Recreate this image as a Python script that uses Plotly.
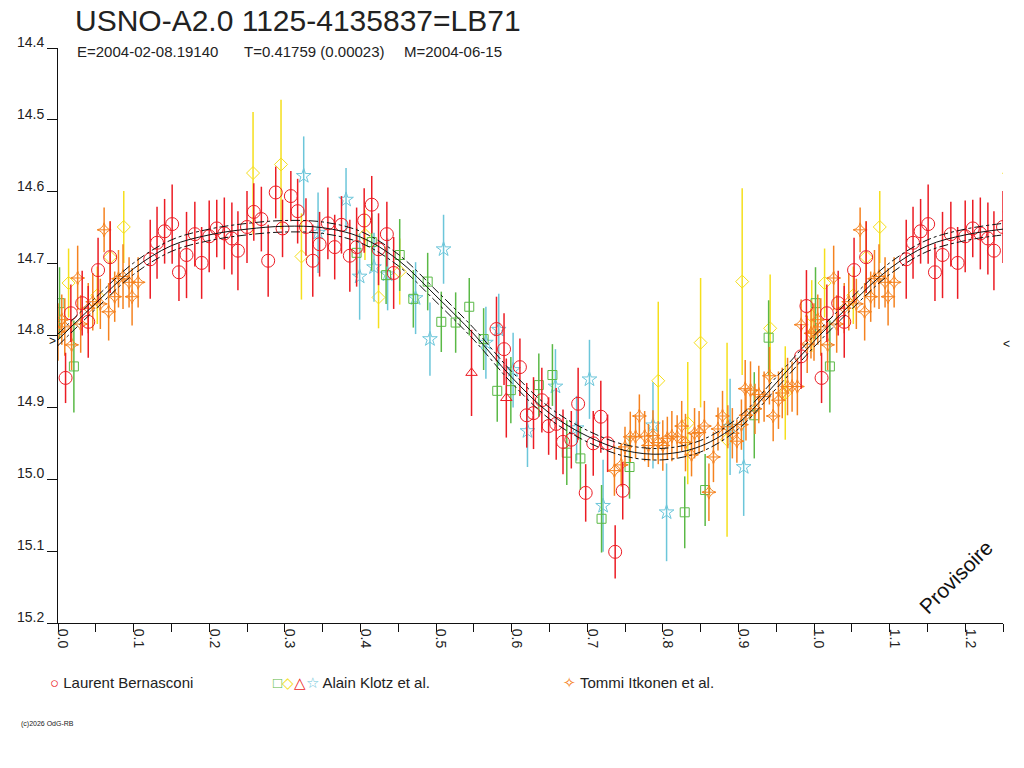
import numpy as np
import plotly.graph_objects as go

# --- fitted light curve (phase, magnitude) ---
fit_phase = [0.00, 0.05, 0.10, 0.15, 0.20, 0.25, 0.30, 0.35, 0.40, 0.45, 0.50,
             0.55, 0.60, 0.65, 0.70, 0.75, 0.80, 0.85, 0.90, 0.95, 1.00]
fit_mag = [14.806, 14.755, 14.707, 14.675, 14.660, 14.652, 14.648, 14.650, 14.663, 14.695, 14.745,
           14.798, 14.858, 14.908, 14.940, 14.960, 14.965, 14.954, 14.922, 14.866, 14.808]
fit_band = 0.008

# --- Laurent Bernasconi (red circles) ---
lb_phase = [0.010, 0.017, 0.032, 0.040, 0.053, 0.069, 0.122, 0.131, 0.141, 0.151,
            0.160, 0.170, 0.181, 0.190, 0.200, 0.210, 0.220, 0.230, 0.238, 0.250,
            0.259, 0.269, 0.278, 0.288, 0.297, 0.308, 0.317, 0.328, 0.337, 0.346,
            0.357, 0.366, 0.375, 0.386, 0.395, 0.405, 0.415, 0.424, 0.435, 0.444,
            0.580, 0.590, 0.611, 0.620, 0.629, 0.640, 0.649, 0.659, 0.668, 0.679,
            0.688, 0.698, 0.708, 0.718, 0.727, 0.737, 0.747, 0.983, 0.990]
lb_mag = [14.859, 14.769, 14.755, 14.781, 14.709, 14.691, 14.694, 14.671, 14.655, 14.645,
          14.712, 14.688, 14.659, 14.699, 14.662, 14.651, 14.658, 14.665, 14.682, 14.649,
          14.628, 14.638, 14.696, 14.601, 14.651, 14.606, 14.627, 14.649, 14.696, 14.673,
          14.644, 14.677, 14.646, 14.689, 14.677, 14.640, 14.618, 14.680, 14.659, 14.713,
          14.791, 14.819, 14.844, 14.911, 14.908, 14.890, 14.926, 14.923, 14.948, 14.945,
          14.895, 15.019, 14.950, 14.913, 14.950, 15.101, 15.016, 14.829, 14.759]
lb_err = [0.035, 0.040, 0.045, 0.050, 0.045, 0.050, 0.055, 0.050, 0.045, 0.055,
          0.040, 0.060, 0.045, 0.050, 0.050, 0.040, 0.050, 0.050, 0.055, 0.050,
          0.040, 0.045, 0.050, 0.036, 0.040, 0.035, 0.045, 0.040, 0.050, 0.045,
          0.050, 0.045, 0.040, 0.050, 0.055, 0.045, 0.040, 0.050, 0.045, 0.050,
          0.045, 0.050, 0.040, 0.045, 0.050, 0.045, 0.040, 0.050, 0.045, 0.040,
          0.050, 0.040, 0.045, 0.050, 0.040, 0.037, 0.040, 0.045, 0.050]

# --- Alain Klotz et al. (green squares, yellow diamonds, red triangles, cyan stars) ---
ak_sq_phase = [0.002, 0.021, 0.395, 0.415, 0.434, 0.452, 0.470, 0.489, 0.507, 0.526,
               0.544, 0.563, 0.581, 0.599, 0.636, 0.654, 0.673, 0.691, 0.719, 0.756,
               0.829, 0.856, 0.921, 0.940]
ak_sq_mag = [14.755, 14.843, 14.685, 14.670, 14.716, 14.688, 14.749, 14.725, 14.781, 14.782,
             14.760, 14.805, 14.877, 14.876, 14.869, 14.855, 14.963, 14.971, 15.055, 14.983,
             15.046, 15.015, 14.911, 14.803]
ak_sq_err = [0.050, 0.064, 0.035, 0.040, 0.040, 0.050, 0.040, 0.040, 0.042, 0.042,
             0.040, 0.043, 0.043, 0.046, 0.044, 0.043, 0.045, 0.044, 0.047, 0.044,
             0.050, 0.050, 0.060, 0.052]

ak_di_phase = [0.014, 0.052, 0.069, 0.087, 0.258, 0.295, 0.322, 0.406, 0.424, 0.452,
               0.794, 0.833, 0.850, 0.885, 0.905, 0.942, 0.962, 0.997]
ak_di_mag = [14.727, 14.744, 14.691, 14.649, 14.574, 14.562, 14.690, 14.660, 14.747, 14.711,
             14.863, 14.922, 14.810, 14.945, 14.725, 14.790, 14.880, 14.773]
ak_di_err = [0.048, 0.040, 0.050, 0.050, 0.085, 0.090, 0.060, 0.035, 0.043, 0.046,
             0.110, 0.085, 0.090, 0.135, 0.130, 0.075, 0.065, 0.050]

ak_tr_phase = [0.547, 0.593]
ak_tr_mag = [14.852, 14.887]
ak_tr_err = [0.060, 0.055]

ak_st_phase = [0.325, 0.344, 0.381, 0.399, 0.418, 0.436, 0.473, 0.492, 0.510, 0.566,
               0.583, 0.602, 0.621, 0.658, 0.686, 0.703, 0.721, 0.787, 0.805, 0.889,
               0.907]
ak_st_mag = [14.578, 14.657, 14.611, 14.718, 14.705, 14.715, 14.748, 14.805, 14.680, 14.810,
             14.792, 14.848, 14.933, 14.871, 14.929, 14.861, 15.037, 14.925, 15.046, 14.927,
             14.983]
ak_st_err = [0.055, 0.056, 0.044, 0.060, 0.048, 0.050, 0.050, 0.051, 0.048, 0.050,
             0.050, 0.052, 0.050, 0.052, 0.045, 0.055, 0.064, 0.060, 0.068, 0.067,
             0.068]

# --- Tommi Itkonen et al. (orange) ---
ti_phase = [0.000, 0.005, 0.009, 0.018, 0.026, 0.030, 0.040, 0.046, 0.056, 0.061,
            0.067, 0.075, 0.080, 0.086, 0.094, 0.098, 0.106,
            0.736, 0.745, 0.750, 0.757, 0.764, 0.769, 0.776, 0.781, 0.787, 0.794,
            0.800, 0.806, 0.812, 0.819, 0.825, 0.830, 0.838, 0.842, 0.848, 0.855,
            0.861, 0.867, 0.873, 0.879, 0.886, 0.892, 0.898, 0.904, 0.909, 0.910,
            0.916, 0.922, 0.927, 0.934, 0.941, 0.946, 0.953, 0.958, 0.965, 0.971,
            0.978, 0.983, 0.991, 0.996]
ti_mag = [14.795, 14.778, 14.788, 14.813, 14.720, 14.784, 14.762, 14.753, 14.756, 14.653,
          14.767, 14.746, 14.721, 14.718, 14.726, 14.746, 14.726,
          14.988, 14.980, 14.955, 14.941, 14.941, 14.912, 14.940, 14.953, 14.939, 14.949,
          14.953, 14.943, 14.940, 14.941, 14.926, 14.949, 14.966, 14.936, 14.935, 14.926,
          15.018, 14.969, 14.930, 14.912, 14.927, 14.936, 14.947, 14.924, 14.874, 14.911,
          14.876, 14.902, 14.882, 14.885, 14.856, 14.912, 14.890, 14.880, 14.871, 14.871,
          14.871, 14.785, 14.812, 14.797]
ti_err = [0.040, 0.035, 0.040, 0.035, 0.045, 0.040, 0.035, 0.040, 0.035, 0.031,
          0.040, 0.035, 0.040, 0.045, 0.035, 0.040, 0.035,
          0.035, 0.030, 0.028, 0.035, 0.030, 0.030, 0.035, 0.030, 0.035, 0.030,
          0.035, 0.030, 0.035, 0.030, 0.035, 0.040, 0.030, 0.035, 0.030, 0.035,
          0.040, 0.035, 0.030, 0.035, 0.030, 0.035, 0.030, 0.035, 0.040, 0.035,
          0.040, 0.035, 0.040, 0.035, 0.040, 0.035, 0.040, 0.035, 0.040, 0.035,
          0.040, 0.035, 0.040, 0.035]

RED = "#ec1c24"
GREEN = "#5ab946"
YELLOW = "#f5df1c"
CYAN = "#6cc6da"
ORANGE = "#f5821f"
FONT = "Liberation Sans, Arial, sans-serif"


def wrap(phase, mag, err=None, cut=0.26):
    # the phased curve is repeated past phase 1
    p = np.asarray(phase)
    m = np.asarray(mag)
    sel = p < cut
    pp = np.concatenate([p, p[sel] + 1])
    mm = np.concatenate([m, m[sel]])
    if err is None:
        return pp, mm
    e = np.asarray(err)
    return pp, mm, np.concatenate([e, e[sel]])


fig = go.Figure()


def add_points(phase, mag, err, color, symbol, size):
    x, y, e = wrap(phase, mag, err)
    fig.add_trace(go.Scatter(
        x=x, y=y, mode="markers",
        marker=dict(symbol=symbol, size=size, color=color, line=dict(color=color, width=1)),
        error_y=dict(type="data", array=e, color=color, thickness=1.5, width=0),
        showlegend=False, hoverinfo="skip"))


add_points(ak_di_phase, ak_di_mag, ak_di_err, YELLOW, "diamond-open", 10)
add_points(ak_st_phase, ak_st_mag, ak_st_err, CYAN, "star-open", 11)
add_points(ak_sq_phase, ak_sq_mag, ak_sq_err, GREEN, "square-open", 9)
add_points(ak_tr_phase, ak_tr_mag, ak_tr_err, RED, "triangle-up-open", 10)
add_points(ti_phase, ti_mag, ti_err, ORANGE, "star-diamond-open", 10)
tx, ty = wrap(ti_phase, ti_mag)
fig.add_trace(go.Scatter(x=tx, y=ty, mode="markers",
                         marker=dict(symbol="line-ew-open", size=9, color=ORANGE,
                                     line=dict(color=ORANGE, width=1)),
                         showlegend=False, hoverinfo="skip"))
add_points(lb_phase, lb_mag, lb_err, RED, "circle-open", 13)

# fitted curve and its band
fx = list(fit_phase) + [p + 1 for p in fit_phase[1:] if p <= 0.25]
fy = list(fit_mag) + [m for p, m in zip(fit_phase[1:], fit_mag[1:]) if p <= 0.25]
fy = np.array(fy)
for off, dash in [(0, "solid"), (-fit_band, "dashdot"), (fit_band, "dashdot")]:
    fig.add_trace(go.Scatter(x=fx, y=fy + off, mode="lines",
                             line=dict(color="#111111", width=1, dash=dash, shape="spline"),
                             showlegend=False, hoverinfo="skip"))

# page body has an 8px margin: screen pixel = figure pixel + 8
OFF = 8
W, H = 1024 - OFF, 768 - OFF
L, R, T, B = 58 - OFF, 1003 - OFF, 48 - OFF, 623 - OFF


def px(x):
    return (x - OFF - L) / (R - L)


def py(y):
    return (B - (y - OFF)) / (B - T)


ann = []
ann.append(dict(text="E=2004-02-08.19140", x=px(75), y=py(51)))
ann.append(dict(text="T=0.41759 (0.00023)", x=px(242), y=py(51)))
ann.append(dict(text="M=2004-06-15", x=px(402), y=py(51)))
for a in ann:
    a.update(xref="paper", yref="paper", xanchor="left", yanchor="middle", showarrow=False,
             font=dict(family=FONT, size=15, color="#222222"))

legend_items = [
    (48, '<span style="color:%s">○</span> Laurent Bernasconi' % RED),
    (271, '<span style="color:%s">□</span><span style="color:%s">◇</span>'
          '<span style="color:%s">△</span><span style="color:%s">☆</span> Alain Klotz et al.'
     % (GREEN, YELLOW, RED, CYAN)),
    (561, '<span style="color:%s">✧</span> Tommi Itkonen et al.' % ORANGE),
]
for xpos, txt in legend_items:
    ann.append(dict(text=txt, x=px(xpos), y=py(682), xref="paper", yref="paper",
                    xanchor="left", yanchor="middle", showarrow=False,
                    font=dict(family=FONT, size=15, color="#222222")))

ann.append(dict(text="(c)2026 OdG-RB", x=px(19), y=py(724), xref="paper", yref="paper",
                xanchor="left", yanchor="middle", showarrow=False,
                font=dict(family=FONT, size=7, color="#222222")))
ann.append(dict(text="Provisoire", x=px(955), y=py(577), xref="paper", yref="paper",
                xanchor="center", yanchor="middle", showarrow=False, textangle=-45,
                font=dict(family=FONT, size=21, color="#111111")))
ann.append(dict(text="&gt;", x=px(52), y=14.808, xref="paper", yref="y",
                xanchor="center", yanchor="middle", showarrow=False,
                font=dict(family=FONT, size=12, color="#111111")))
ann.append(dict(text="&lt;", x=px(1007), y=14.812, xref="paper", yref="y",
                xanchor="center", yanchor="middle", showarrow=False,
                font=dict(family=FONT, size=12, color="#111111")))

fig.update_layout(
    width=W, height=H,
    margin=dict(l=L, r=W - R, t=T, b=H - B, autoexpand=False),
    paper_bgcolor="white", plot_bgcolor="white",
    font=dict(family=FONT, color="#222222"),
    title=dict(text="USNO-A2.0 1125-4135837=LB71", x=(75 - OFF) / W, y=1 - (20 - OFF) / H,
               xref="container", yref="container", xanchor="left", yanchor="middle",
               font=dict(family=FONT, size=30, color="#222222")),
    annotations=ann,
    showlegend=False,
)
fig.update_xaxes(range=[0, 1.25], dtick=0.1, tick0=0, tickformat=".1f", automargin=False,
                 showline=True, linecolor="#111111", linewidth=1,
                 showgrid=False, zeroline=False,
                 ticks="outside", ticklen=8, tickcolor="#111111", tickangle=90,
                 ticklabelshift=5, ticklabelstandoff=-6,
                 tickfont=dict(family=FONT, size=14, color="#222222"),
                 minor=dict(dtick=0.05, ticks="outside", ticklen=8, tickcolor="#111111", showgrid=False))
fig.update_yaxes(range=[15.2, 14.4], dtick=0.1, tick0=14.4, tickformat=".1f", automargin=False,
                 showline=True, linecolor="#111111", linewidth=1,
                 showgrid=False, zeroline=False,
                 ticks="outside", ticklen=10, tickcolor="#111111",
                 ticklabelshift=6,
                 tickfont=dict(family=FONT, size=14, color="#222222"))

fig.write_html("out.html")
